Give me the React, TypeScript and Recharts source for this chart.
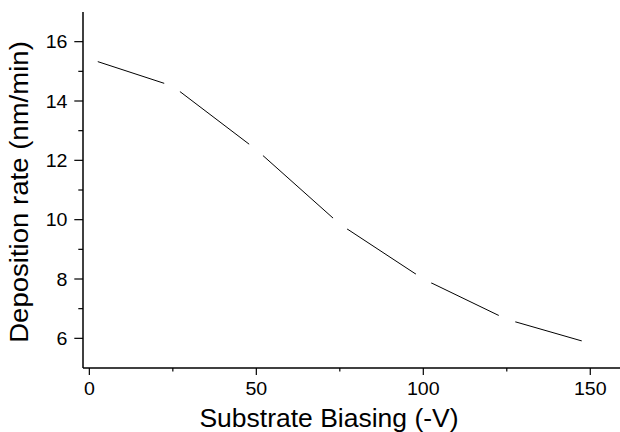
import React from 'react';
import { LineChart, Line, XAxis, YAxis } from 'recharts';

// substrate bias (-V) and measured deposition rate (nm/min)
const biasValues = [0, 25, 50, 75, 100, 125, 150];
const rateValues = [15.42, 14.5, 12.36, 9.85, 8.0, 6.64, 5.83];

const xMajorTicks = [0, 50, 100, 150];
const xMinorTicks = [25, 75, 125];
const yMajorTicks = [6, 8, 10, 12, 14, 16];
const yMinorTicks = [7, 9, 11, 13, 15];

const xTitle = 'Substrate Biasing (-V)';
const yTitle = 'Deposition rate (nm/min)';

const data = biasValues.map((bias, i) => ({ bias, rate: rateValues[i] }));
const xTicks = [...xMajorTicks, ...xMinorTicks].sort((a, b) => a - b);
const yTicks = [...yMajorTicks, ...yMinorTicks].sort((a, b) => a - b);

const FONT = '"Liberation Sans", Arial, sans-serif';
const GAP = 9;

const XTick = (props: any) => {
    const { x, y, payload } = props;
    const major = xMajorTicks.includes(payload.value);
    return (
        <g>
            <line x1={x} x2={x} y1={y} y2={y + (major ? 7 : 3.5)} stroke="#000" strokeWidth={1.2} />
            {major && (
                <text
                    transform={`translate(${x},${y + 27}) scale(1.06,1)`}
                    textAnchor="middle"
                    fontSize={18.5}
                    fontFamily={FONT}
                    fill="#000"
                >
                    {payload.value}
                </text>
            )}
        </g>
    );
};

const YTick = (props: any) => {
    const { x, y, payload } = props;
    const major = yMajorTicks.includes(payload.value);
    return (
        <g>
            <line x1={x - (major ? 8.7 : 4.7)} x2={x} y1={y} y2={y} stroke="#000" strokeWidth={1.2} />
            {major && (
                <text
                    transform={`translate(${x - 15.5},${y + 6.6}) scale(1.06,1)`}
                    textAnchor="end"
                    fontSize={18.5}
                    fontFamily={FONT}
                    fill="#000"
                >
                    {payload.value}
                </text>
            )}
        </g>
    );
};

// white disc cutting the line around each point (Origin "line with gap" look).
// end points only get the half facing the line (plus a sliver), so the axis stays visible.
const GapDot = (props: any) => {
    const { cx, cy, index } = props;
    const key = `gap-${index}`;
    if (index === 0) {
        const d = `M${cx - 2},${cy - GAP} L${cx},${cy - GAP} A${GAP},${GAP} 0 0 1 ${cx},${cy + GAP} L${cx - 2},${cy + GAP} Z`;
        return <path key={key} d={d} fill="#fff" />;
    }
    if (index === biasValues.length - 1) {
        const d = `M${cx + 2},${cy - GAP} L${cx},${cy - GAP} A${GAP},${GAP} 0 0 0 ${cx},${cy + GAP} L${cx + 2},${cy + GAP} Z`;
        return <path key={key} d={d} fill="#fff" />;
    }
    return <circle key={key} cx={cx} cy={cy} r={GAP} fill="#fff" stroke="none" />;
};

const XTitle = () => (
    <text
        transform="translate(329,427) scale(1.06,1)"
        textAnchor="middle"
        fontSize={25}
        fontFamily={FONT}
        fill="#000"
    >
        {xTitle}
    </text>
);

const YTitle = () => (
    <text
        transform="translate(28,192) rotate(-90) scale(1.06,1)"
        textAnchor="middle"
        fontSize={26}
        fontFamily={FONT}
        fill="#000"
    >
        {yTitle}
    </text>
);

export default function App() {
    return (
        <div style={{ position: 'absolute', left: 0, top: 0, width: 620, height: 432, overflow: 'hidden', background: '#fff' }}>
            <LineChart width={620} height={432} data={data} margin={{ top: 12, right: 0, bottom: 0, left: 0 }}>
                <Line
                    type="linear"
                    dataKey="rate"
                    stroke="#000"
                    strokeWidth={1}
                    dot={GapDot}
                    activeDot={false}
                    isAnimationActive={false}
                />
                <XAxis
                    dataKey="bias"
                    type="number"
                    domain={[-1.9, 158.9]}
                    allowDataOverflow
                    ticks={xTicks}
                    interval={0}
                    height={64}
                    tickSize={0}
                    tickMargin={0}
                    tickLine={false}
                    tick={XTick}
                    axisLine={{ stroke: '#000', strokeWidth: 1.5 }}
                    label={{ content: XTitle }}
                />
                <XAxis
                    xAxisId="top"
                    orientation="top"
                    dataKey="bias"
                    type="number"
                    domain={[-1.9, 158.9]}
                    allowDataOverflow
                    height={0}
                    tick={false}
                    tickLine={false}
                    axisLine={{ stroke: '#000', strokeWidth: 1.5 }}
                />
                <YAxis
                    type="number"
                    domain={[5, 17]}
                    allowDataOverflow
                    ticks={yTicks}
                    interval={0}
                    width={83}
                    tickSize={0}
                    tickMargin={0}
                    tickLine={false}
                    tick={YTick}
                    axisLine={{ stroke: '#000', strokeWidth: 1.5 }}
                    label={{ content: YTitle }}
                />
            </LineChart>
        </div>
    );
}
